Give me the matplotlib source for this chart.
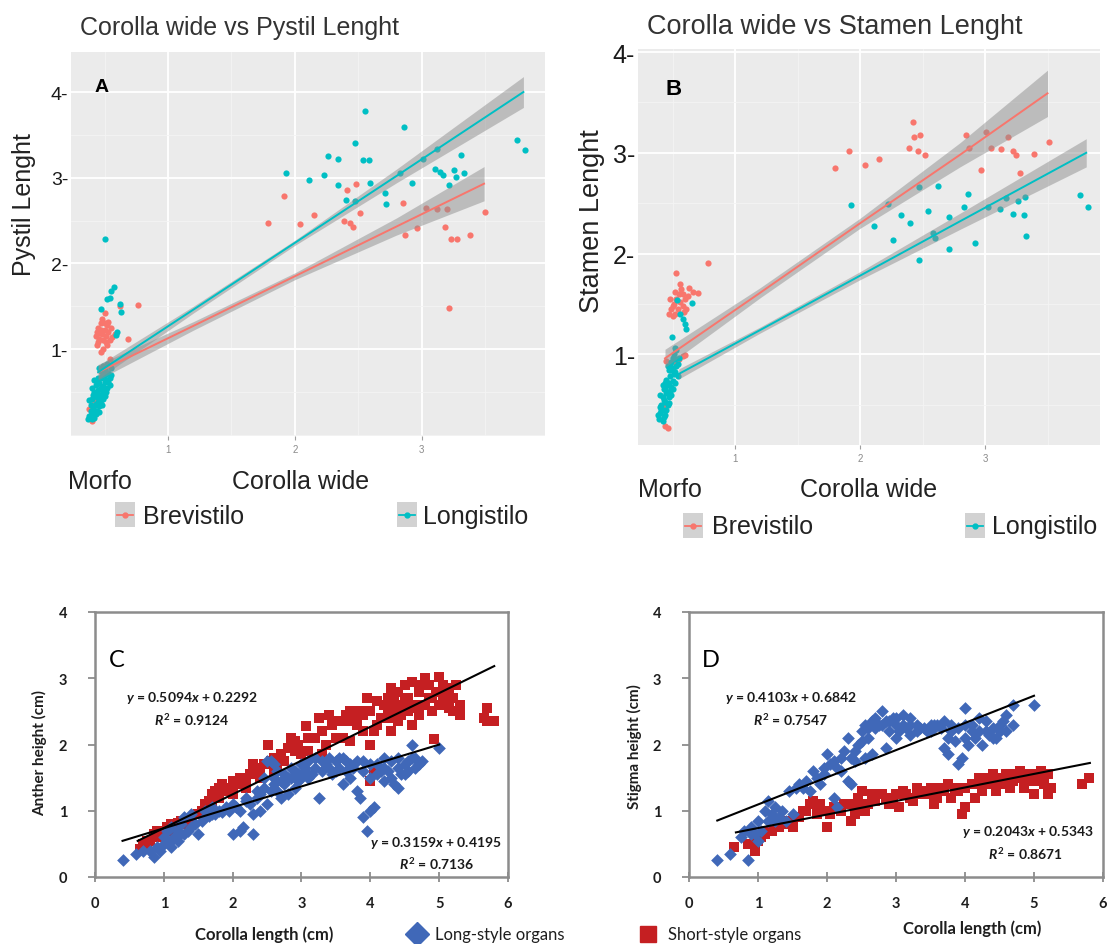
import numpy as np
import matplotlib
matplotlib.use("Agg")
import matplotlib.pyplot as plt
from matplotlib.lines import Line2D
from matplotlib.ticker import MultipleLocator, FixedLocator

# --- canvas / style ---
W, H = 1109, 945
GG_FONT = ["Liberation Sans", "DejaVu Sans"]
XL_FONT = ["Lato", "DejaVu Sans"]
RED_GG = "#F8766D"
CYAN_GG = "#00BFC4"
BLUE_XL = "#4068B8"
RED_XL = "#C51F22"
XL_GREY = "#8c8c8c"

plt.rcParams["font.family"] = GG_FONT
plt.rcParams["mathtext.fontset"] = "custom"
plt.rcParams["mathtext.it"] = "Lato:italic:bold"
plt.rcParams["mathtext.rm"] = "Lato:bold"

# --- panel A data (Corolla wide vs Pystil Lenght) ---
A_BREV = [
    (0.44, 1.05), (0.46, 1.12), (0.48, 1.18), (0.50, 1.22), (0.45, 1.25), (0.47, 1.30),
    (0.49, 1.10), (0.51, 1.15), (0.53, 1.20), (0.52, 1.28), (0.48, 1.35), (0.50, 1.42),
    (0.46, 1.19), (0.54, 1.10), (0.49, 1.00), (0.52, 1.05), (0.56, 1.14), (0.47, 0.97),
    (0.685, 1.12), (0.764, 1.51), (0.62, 1.50), (0.58, 1.18), (0.54, 0.88), (0.40, 0.16),
    (0.38, 0.30), (0.42, 0.40), (0.45, 0.60),
    (0.43, 1.15), (0.45, 1.08), (0.47, 1.22), (0.51, 1.08), (0.53, 1.32), (0.55, 1.25),
    (0.50, 1.30), (0.44, 1.20),
    (1.91, 2.79), (1.79, 2.47), (2.04, 2.46), (2.15, 2.57), (2.41, 2.86), (2.48, 2.93),
    (2.51, 2.59), (2.39, 2.49), (2.43, 2.47), (2.46, 2.43), (2.85, 2.71), (2.87, 2.33),
    (2.96, 2.41), (3.03, 2.65), (3.12, 2.63), (3.20, 2.64), (3.18, 2.42), (3.23, 2.28),
    (3.28, 2.28), (3.38, 2.33), (3.50, 2.60), (3.21, 1.48),
]
A_LONG = [
    (0.38, 0.22), (0.40, 0.25), (0.42, 0.20), (0.41, 0.30), (0.44, 0.28), (0.39, 0.35),
    (0.43, 0.36), (0.46, 0.33), (0.40, 0.42), (0.44, 0.44), (0.47, 0.40), (0.42, 0.50),
    (0.45, 0.52), (0.48, 0.48), (0.50, 0.45), (0.43, 0.58), (0.46, 0.60), (0.49, 0.57),
    (0.52, 0.55), (0.45, 0.66), (0.48, 0.68), (0.51, 0.64), (0.53, 0.62), (0.47, 0.74),
    (0.50, 0.76), (0.53, 0.72), (0.55, 0.70), (0.49, 0.80), (0.52, 0.82), (0.41, 0.46),
    (0.45, 0.38), (0.39, 0.28), (0.47, 0.55), (0.50, 0.70), (0.44, 0.62), (0.48, 0.35),
    (0.37, 0.18), (0.40, 0.18), (0.43, 0.24), (0.46, 0.26), (0.38, 0.40), (0.42, 0.33),
    (0.49, 0.42), (0.51, 0.50), (0.44, 0.48), (0.40, 0.55), (0.46, 0.45), (0.54, 0.58),
    (0.50, 0.62), (0.47, 0.66), (0.42, 0.64), (0.55, 0.78), (0.51, 0.72), (0.46, 0.78),
    (0.54, 0.66), (0.49, 0.52),
    (0.507, 2.29), (0.575, 1.72), (0.55, 1.68), (0.541, 1.60), (0.52, 1.58), (0.475, 1.47),
    (0.619, 1.53), (0.633, 1.43), (0.593, 1.16), (0.60, 1.20),
    (2.55, 3.78), (2.86, 3.59), (2.47, 3.40), (3.75, 3.44), (3.81, 3.32), (2.26, 3.25),
    (2.34, 3.22), (2.54, 3.21), (2.58, 3.21), (3.12, 3.34), (3.01, 3.22), (3.31, 3.27),
    (1.93, 3.05), (2.11, 2.97), (2.23, 3.03), (2.34, 2.91), (2.59, 2.94), (2.83, 3.05),
    (2.92, 2.94), (3.10, 3.10), (3.14, 3.07), (3.17, 3.03), (3.21, 2.91), (3.25, 3.09),
    (3.33, 3.05), (3.27, 3.01), (2.40, 2.74), (2.47, 2.73), (2.71, 2.82), (2.72, 2.69),
]
# fitted lines with ribbon half-widths, read at a few x positions
A_FIT_BREV_X = [0.45, 1.2, 2.0, 2.8, 3.49]
A_FIT_BREV_Y = [0.73, 1.27, 1.85, 2.43, 2.93]
A_FIT_BREV_SE = [0.09, 0.05, 0.04, 0.10, 0.20]
A_FIT_LONG_X = [0.45, 1.2, 2.0, 2.8, 3.80]
A_FIT_LONG_Y = [0.73, 1.46, 2.24, 3.02, 4.00]
A_FIT_LONG_SE = [0.08, 0.04, 0.03, 0.08, 0.18]

# --- panel B data (Corolla wide vs Stamen Lenght) ---
B_BREV = [
    (0.47, 1.40), (0.49, 1.45), (0.51, 1.50), (0.53, 1.55), (0.50, 1.38), (0.55, 1.60),
    (0.57, 1.65), (0.52, 1.62), (0.48, 1.55), (0.58, 1.48), (0.60, 1.55), (0.62, 1.58),
    (0.56, 1.70), (0.59, 1.42), (0.525, 1.81), (0.787, 1.91), (0.707, 1.61), (0.635, 1.66),
    (0.66, 1.62), (0.44, 0.29), (0.46, 0.27), (0.43, 0.50), (0.55, 0.95), (0.58, 0.98),
    (0.52, 0.92), (0.45, 0.93), (0.60, 0.99),
    (0.50, 1.48), (0.54, 1.45), (0.56, 1.52), (0.52, 1.40), (0.58, 1.60), (0.61, 1.45),
    (2.42, 3.31), (2.43, 3.16), (2.48, 3.18), (2.39, 3.05), (2.46, 3.02), (2.52, 2.98),
    (1.91, 3.02), (1.80, 2.85), (2.04, 2.88), (2.15, 2.94), (2.85, 3.18), (2.87, 3.05),
    (2.97, 2.83), (3.01, 3.21), (3.05, 3.05), (3.13, 3.04), (3.18, 3.16), (3.22, 3.02),
    (3.25, 2.98), (3.28, 2.80), (3.39, 2.99), (3.51, 3.11),
]
B_LONG = [
    (0.39, 0.36), (0.42, 0.34), (0.40, 0.42), (0.43, 0.45), (0.41, 0.50), (0.44, 0.53),
    (0.46, 0.50), (0.42, 0.58), (0.45, 0.62), (0.47, 0.58), (0.43, 0.66), (0.46, 0.70),
    (0.49, 0.68), (0.45, 0.75), (0.48, 0.78), (0.50, 0.74), (0.47, 0.84), (0.50, 0.86),
    (0.52, 0.82), (0.49, 0.92), (0.52, 0.95), (0.54, 0.90), (0.51, 1.00), (0.53, 1.04),
    (0.44, 0.40), (0.48, 0.64), (0.51, 0.80), (0.46, 0.88), (0.41, 0.45), (0.44, 0.72),
    (0.38, 0.40), (0.40, 0.48), (0.43, 0.38), (0.45, 0.45), (0.47, 0.52), (0.40, 0.60),
    (0.43, 0.55), (0.49, 0.60), (0.47, 0.72), (0.50, 0.66), (0.52, 0.72), (0.48, 0.88),
    (0.53, 0.88), (0.55, 0.96), (0.50, 0.96), (0.44, 0.66), (0.42, 0.70), (0.54, 0.78),
    (0.52, 1.06), (0.49, 0.84),
    (0.493, 1.17), (0.533, 1.54), (0.653, 1.51), (0.605, 1.25), (0.58, 1.35), (0.60, 1.30),
    (0.56, 1.40),
    (1.93, 2.48), (2.11, 2.27), (2.22, 2.49), (2.26, 2.13), (2.33, 2.38), (2.40, 2.30),
    (2.47, 2.66), (2.47, 1.94), (2.54, 2.42), (2.58, 2.20), (2.60, 2.15), (2.62, 2.67),
    (2.71, 2.36), (2.71, 2.05), (2.83, 2.46), (2.86, 2.59), (2.92, 2.10), (3.02, 2.46),
    (3.12, 2.44), (3.17, 2.55), (3.22, 2.39), (3.26, 2.52), (3.32, 2.56), (3.31, 2.38),
    (3.33, 2.17), (3.76, 2.58), (3.82, 2.46),
]
B_FIT_BREV_X = [0.44, 1.2, 2.0, 2.8, 3.50]
B_FIT_BREV_Y = [0.96, 1.61, 2.30, 2.98, 3.59]
B_FIT_BREV_SE = [0.09, 0.05, 0.05, 0.12, 0.23]
B_FIT_LONG_X = [0.55, 1.2, 2.0, 2.8, 3.81]
B_FIT_LONG_Y = [0.805, 1.24, 1.78, 2.32, 3.00]
B_FIT_LONG_SE = [0.05, 0.03, 0.04, 0.08, 0.14]

# --- panel C data (Anther height vs Corolla length) ---
C_SHORT = [
    (0.65, 0.42), (0.70, 0.50), (0.75, 0.45), (0.80, 0.55), (0.85, 0.65), (0.90, 0.60),
    (0.95, 0.70), (1.00, 0.68), (1.05, 0.75), (1.10, 0.80), (1.15, 0.78), (1.20, 0.82),
    (1.25, 0.85), (1.30, 0.80), (1.40, 0.88), (1.50, 0.95),
    (1.65, 1.15), (1.70, 1.25), (1.75, 1.30), (1.80, 1.35), (1.85, 1.40), (1.90, 1.30),
    (1.95, 1.35), (2.00, 1.45), (2.05, 1.40), (2.10, 1.50), (2.15, 1.45), (2.20, 1.50),
    (2.25, 1.55), (2.30, 1.70), (2.35, 1.65), (2.40, 1.60), (2.45, 1.70), (2.52, 2.00),
    (1.70, 1.10), (1.80, 1.20), (2.00, 1.25), (2.20, 1.35), (2.40, 1.50), (2.60, 1.60),
    (2.55, 1.75), (2.60, 1.80), (2.70, 1.85), (2.80, 1.95), (2.85, 2.10), (2.90, 1.90),
    (2.95, 2.00), (3.00, 1.85), (3.06, 2.28), (3.10, 1.90), (3.20, 2.10), (3.25, 2.40),
    (3.30, 2.20), (3.35, 2.00), (3.40, 2.45), (3.45, 2.30), (3.50, 2.10), (3.60, 2.35),
    (3.70, 2.50), (3.80, 2.30), (3.85, 2.50), (3.90, 2.20), (3.95, 2.70), (4.00, 2.50),
    (4.00, 1.45), (4.05, 1.60), (4.00, 2.00), (4.10, 2.30), (4.15, 2.40), (4.20, 2.60),
    (4.25, 2.70), (4.30, 2.50), (4.35, 2.65), (4.40, 2.80), (4.45, 2.60), (4.50, 2.90),
    (4.55, 2.70), (4.60, 2.95), (4.65, 2.55), (4.70, 2.80), (4.75, 2.60), (4.80, 3.00),
    (4.85, 2.70), (4.90, 2.50), (4.95, 2.80), (5.00, 3.02), (5.05, 2.70), (5.10, 2.65),
    (5.15, 2.85), (5.20, 2.50), (5.25, 2.90), (5.30, 2.60), (5.30, 2.45), (4.30, 2.20),
    (4.40, 2.35), (4.60, 2.30), (4.93, 2.08), (3.60, 2.10), (3.70, 2.05), (3.30, 1.85),
    (5.70, 2.55), (5.65, 2.40), (5.80, 2.35), (5.70, 2.35),
    (4.20, 2.40), (4.25, 2.50), (4.30, 2.85), (4.35, 2.40), (4.45, 2.45), (4.50, 2.65),
    (4.55, 2.50), (4.60, 2.60), (4.70, 2.45), (4.75, 2.90), (4.80, 2.60), (4.85, 2.90),
    (4.90, 2.70), (5.00, 2.60), (5.05, 2.90), (5.10, 2.80), (5.15, 2.55), (5.20, 2.70),
    (4.10, 2.65), (4.05, 2.20), (3.90, 2.45), (3.75, 2.35), (3.65, 2.45), (3.50, 2.35),
    (3.10, 2.10), (2.75, 1.75), (2.65, 1.70), (2.90, 2.05), (1.55, 1.00), (1.60, 1.10),
    (0.75, 0.55), (0.90, 0.70), (1.10, 0.70),
]
C_LONG = [
    (0.40, 0.25), (0.60, 0.35), (0.70, 0.40), (0.85, 0.30), (0.90, 0.45), (1.00, 0.50),
    (1.10, 0.45), (1.15, 0.60), (1.20, 0.70), (1.30, 0.65), (1.40, 0.75), (1.40, 0.95),
    (1.50, 0.65), (1.55, 0.85), (1.60, 1.00), (1.70, 0.95), (1.80, 1.00), (1.90, 1.05),
    (2.00, 1.10), (2.00, 0.65), (2.10, 0.70), (2.15, 0.75), (2.20, 1.20), (2.30, 0.65),
    (2.30, 0.95), (2.35, 1.30), (2.40, 1.00), (2.45, 1.50), (2.50, 1.75), (2.50, 1.10),
    (2.60, 1.40), (2.65, 1.60), (2.70, 1.20), (2.80, 1.50), (2.80, 1.25), (2.90, 1.60),
    (2.90, 1.35), (3.00, 1.70), (3.00, 1.50), (3.10, 1.75), (3.15, 1.55), (3.20, 1.80),
    (3.25, 1.20), (3.30, 1.60), (3.40, 1.65), (3.45, 1.55), (3.50, 1.75), (3.60, 1.80),
    (3.60, 1.40), (3.65, 1.60), (3.70, 1.50), (3.80, 1.75), (3.80, 1.30), (3.85, 1.20),
    (3.90, 1.60), (3.90, 0.90), (3.95, 0.70), (4.00, 1.00), (4.00, 1.50), (4.05, 1.05),
    (4.10, 1.70), (4.15, 1.60), (4.20, 1.80), (4.30, 1.50), (4.35, 1.40), (4.40, 1.65),
    (4.50, 1.70), (4.55, 1.60), (4.60, 1.80), (4.60, 2.00), (4.70, 1.70), (4.75, 1.75),
    (5.00, 1.95), (1.00, 0.60), (1.05, 0.70), (1.10, 0.75), (1.20, 0.55), (1.25, 0.80),
    (1.30, 0.90), (1.60, 0.90), (1.70, 1.05), (1.75, 0.95), (2.10, 1.00), (2.25, 1.10),
    (2.40, 1.25), (2.55, 1.30), (2.70, 1.45), (2.75, 1.55), (2.85, 1.65), (2.95, 1.45),
    (3.05, 1.60), (3.35, 1.70), (3.55, 1.65), (3.75, 1.65), (4.25, 1.60), (4.45, 1.55),
    (4.65, 1.65), (4.40, 1.35), (4.20, 1.45),
    (1.10, 0.55), (1.20, 0.62), (1.35, 0.70), (1.45, 0.80), (1.65, 0.92), (1.85, 0.98),
    (1.95, 1.00), (2.05, 1.05), (2.20, 1.15), (2.35, 1.20), (2.45, 1.35), (2.60, 1.50),
    (2.65, 1.30), (2.75, 1.40), (2.85, 1.50), (2.95, 1.55), (3.05, 1.65), (3.10, 1.50),
    (3.20, 1.65), (3.30, 1.75), (3.40, 1.80), (3.50, 1.60), (3.55, 1.80), (3.65, 1.75),
    (3.70, 1.70), (3.90, 1.75), (4.00, 1.70), (4.10, 1.55), (4.20, 1.65), (4.30, 1.75),
    (4.40, 1.80), (4.50, 1.55), (4.55, 1.75), (4.65, 1.80), (2.55, 1.75), (2.60, 1.70),
    (0.95, 0.40), (0.80, 0.40), (1.05, 0.55),
]
C_TREND_SHORT = (0.5094, 0.2292, 0.62, 5.80)   # slope, intercept, x from, x to
C_TREND_LONG = (0.3159, 0.4195, 0.40, 5.00)

# --- panel D data (Stigma height vs Corolla length) ---
D_SHORT = [
    (0.65, 0.45), (0.85, 0.50), (0.95, 0.40), (1.00, 0.55), (1.05, 0.60), (1.10, 0.65),
    (1.20, 0.70), (1.30, 0.75), (1.40, 0.80), (1.50, 0.75), (1.60, 0.90), (1.70, 1.00),
    (1.75, 1.10), (1.80, 1.15), (1.90, 1.10), (2.00, 0.75), (2.05, 0.95), (2.10, 1.05),
    (2.20, 1.00), (2.30, 1.10), (2.35, 0.85), (2.40, 0.95), (2.50, 1.30), (2.55, 1.00),
    (2.60, 1.10), (2.70, 1.15), (2.80, 1.25), (2.90, 1.10), (3.00, 1.25), (3.05, 1.05),
    (3.10, 1.30), (3.20, 1.20), (3.30, 1.35), (3.40, 1.30), (3.50, 1.35), (3.60, 1.20),
    (3.70, 1.30), (3.75, 1.40), (3.80, 1.20), (3.90, 1.30), (3.95, 0.95), (4.00, 1.05),
    (4.10, 1.40), (4.20, 1.50), (4.25, 1.30), (4.30, 1.50), (4.40, 1.45), (4.50, 1.50),
    (4.60, 1.45), (4.70, 1.55), (4.80, 1.50), (4.90, 1.45), (5.00, 1.55), (5.00, 1.25),
    (5.10, 1.60), (5.15, 1.40), (5.25, 1.35), (5.70, 1.40), (5.80, 1.50), (4.45, 1.30),
    (4.15, 1.20), (3.55, 1.10), (2.95, 1.15), (2.45, 1.20), (1.95, 1.00), (1.85, 0.95),
    (3.25, 1.15), (4.85, 1.35), (4.65, 1.35), (5.05, 1.45),
    (4.30, 1.40), (4.40, 1.55), (4.50, 1.40), (4.60, 1.55), (4.70, 1.45), (4.80, 1.60),
    (4.90, 1.55), (5.00, 1.45), (5.10, 1.50), (5.20, 1.55), (4.20, 1.40), (4.00, 1.35),
    (3.85, 1.35), (3.65, 1.35), (3.45, 1.25), (3.35, 1.25), (3.15, 1.25), (2.85, 1.20),
    (2.65, 1.25), (2.45, 1.10), (2.25, 1.10), (1.65, 1.00), (1.45, 0.85), (1.15, 0.70),
    (5.20, 1.25),
]
D_LONG = [
    (0.40, 0.25), (0.60, 0.35), (0.85, 0.25), (0.75, 0.60), (0.80, 0.70), (0.90, 0.75),
    (1.00, 0.85), (1.05, 0.70), (1.10, 1.00), (1.15, 1.15), (1.20, 0.95), (1.25, 0.85),
    (1.30, 0.90), (1.40, 0.85), (1.45, 1.30), (1.50, 0.95), (1.55, 1.35), (1.60, 1.40),
    (1.70, 1.45), (1.80, 1.60), (1.85, 1.50), (1.90, 1.40), (1.95, 1.55), (2.00, 1.85),
    (2.05, 1.70), (2.10, 1.20), (2.10, 1.75), (2.15, 1.05), (2.20, 1.80), (2.25, 1.90),
    (2.30, 2.10), (2.30, 1.45), (2.35, 1.40), (2.40, 1.90), (2.45, 2.00), (2.50, 2.20),
    (2.55, 2.30), (2.60, 2.10), (2.65, 2.35), (2.70, 2.40), (2.75, 2.30), (2.80, 2.50),
    (2.85, 2.35), (2.90, 2.20), (2.95, 2.40), (3.00, 2.30), (3.05, 2.20), (3.10, 2.45),
    (3.15, 2.25), (3.20, 2.30), (3.30, 2.20), (3.40, 2.25), (3.50, 2.30), (3.60, 2.30),
    (3.70, 2.35), (3.75, 2.10), (3.70, 1.95), (3.75, 1.85), (3.80, 2.20), (3.85, 2.05),
    (3.90, 1.70), (3.95, 1.80), (4.00, 2.55), (4.00, 2.10), (4.05, 2.00), (4.10, 2.30),
    (4.15, 2.10), (4.20, 2.20), (4.25, 2.00), (4.30, 2.35), (4.35, 2.15), (4.40, 2.25),
    (4.45, 2.10), (4.50, 2.30), (4.60, 2.45), (4.70, 2.30), (4.70, 2.60), (5.00, 2.60),
    (2.55, 1.80), (2.40, 1.75), (2.65, 1.85), (2.20, 1.60), (3.00, 2.10), (3.20, 2.15),
    (3.45, 2.20), (1.35, 1.00), (1.00, 0.55), (0.95, 0.65), (2.85, 1.95), (1.75, 1.30),
    (2.60, 2.25), (2.70, 2.25), (2.80, 2.30), (2.90, 2.35), (3.00, 2.40), (3.10, 2.30),
    (3.20, 2.40), (3.30, 2.30), (3.35, 2.25), (3.50, 2.20), (3.55, 2.30), (3.65, 2.25),
    (3.80, 2.30), (3.90, 2.25), (4.00, 2.30), (4.10, 2.20), (4.20, 2.40), (4.30, 2.20),
    (4.40, 2.10), (4.50, 2.20), (4.55, 2.35), (4.60, 2.20), (2.50, 2.05), (2.35, 1.80),
    (2.15, 1.65), (1.95, 1.65), (1.65, 1.35), (1.25, 1.05), (1.15, 0.85), (0.90, 0.65),
]
D_TREND_SHORT = (0.2043, 0.5343, 0.68, 5.81)
D_TREND_LONG = (0.4103, 0.6842, 0.41, 5.00)

GG_TICKS = [1, 2, 3, 4]
XL_XTICKS = [0, 1, 2, 3, 4, 5, 6]
XL_YTICKS = [0, 1, 2, 3, 4]


def px_axes(fig, l, t, r, b):
    return fig.add_axes([l / W, 1 - b / H, (r - l) / W, (b - t) / H])


def ftext(fig, x, y, s, **kw):
    return fig.text(x / W, 1 - y / H, s, **kw)


def gg_panel(ax, xlim, ylim, tick_fs, groups):
    ax.set_facecolor("#EBEBEB")
    for sp in ax.spines.values():
        sp.set_visible(False)
    ax.set_xlim(*xlim)
    ax.set_ylim(*ylim)
    ax.xaxis.set_major_locator(FixedLocator([1, 2, 3]))
    ax.xaxis.set_minor_locator(MultipleLocator(0.5))
    ax.yaxis.set_major_locator(FixedLocator(GG_TICKS))
    ax.yaxis.set_minor_locator(MultipleLocator(0.5))
    ax.set_yticklabels([f"{v}-" for v in GG_TICKS])
    ax.grid(which="major", color="white", lw=1.3)
    ax.grid(which="minor", color="#f4f4f4", lw=0.6)
    ax.set_axisbelow(True)
    ax.tick_params(axis="y", which="both", length=0, pad=2,
                   labelsize=tick_fs, labelcolor="#1a1a1a")
    ax.tick_params(axis="x", which="major", length=3, width=0.8, color="#a0a0a0",
                   labelsize=7, labelcolor="#8a8a8a", pad=3)
    ax.tick_params(axis="x", which="minor", length=0)

    for pts, color, fx, fy, se in groups:
        p = np.array(pts)
        ax.scatter(p[:, 0], p[:, 1], s=20, color=color, lw=0, zorder=3)
    for pts, color, fx, fy, se in groups:
        fx, fy, se = np.array(fx), np.array(fy), np.array(se)
        ax.fill_between(fx, fy - se, fy + se, color="#8f8f8f", alpha=0.5, lw=0, zorder=4)
        ax.plot(fx, fy, color=color, lw=1.4, zorder=5)


def gg_legend_key(fig, l, t, r, b, color):
    k = px_axes(fig, l, t, r, b)
    k.set_facecolor("#d2d2d2")
    for sp in k.spines.values():
        sp.set_visible(False)
    k.set_xticks([])
    k.set_yticks([])
    k.set_xlim(0, 1)
    k.set_ylim(0, 1)
    k.plot([0.1, 0.9], [0.5, 0.5], color=color, lw=1.3)
    k.plot([0.5], [0.5], "o", color=color, ms=3.5)


def xl_panel(ax, short_pts, long_pts, trends, letter, eqs):
    ax.set_xlim(0, 6)
    ax.set_ylim(0, 4)
    ax.set_xticks(XL_XTICKS)
    ax.set_yticks(XL_YTICKS)
    for sp in ax.spines.values():
        sp.set_color(XL_GREY)
        sp.set_linewidth(1.8)
    ax.tick_params(axis="x", direction="inout", length=7, width=1.3, color=XL_GREY,
                   labelsize=10.5, pad=10)
    ax.tick_params(axis="y", direction="out", length=5, width=1.3, color=XL_GREY,
                   labelsize=10.5, pad=15)
    for lab in ax.get_xticklabels() + ax.get_yticklabels():
        lab.set_fontfamily(XL_FONT)
        lab.set_fontweight("bold")
        lab.set_color("#1e1e1e")

    s = np.array(short_pts)
    lg = np.array(long_pts)
    ax.scatter(s[:, 0], s[:, 1], marker="s", s=42, color=RED_XL, lw=0, zorder=3)
    ax.scatter(lg[:, 0], lg[:, 1], marker="D", s=42, color=BLUE_XL, lw=0, zorder=4)
    for slope, icpt, x0, x1 in trends:
        xs = np.array([x0, x1])
        ax.plot(xs, slope * xs + icpt, color="black", lw=1.5, zorder=5)

    ax.text(0.31, 3.28, letter, fontsize=17, family=XL_FONT, ha="center", va="center")
    for x, y, txt in eqs:
        ax.text(x, y, txt, fontsize=10, family=XL_FONT, fontweight="bold",
                ha="center", va="center", color="#1a1a1a", zorder=6)


fig = plt.figure(figsize=(W / 100, H / 100), dpi=100, facecolor="white")

# ---------------- Panel A ----------------
axA = px_axes(fig, 71, 53, 545, 437)
gg_panel(axA, (0.236, 3.97), (-0.015, 4.467), 14, [
    (A_BREV, RED_GG, A_FIT_BREV_X, A_FIT_BREV_Y, A_FIT_BREV_SE),
    (A_LONG, CYAN_GG, A_FIT_LONG_X, A_FIT_LONG_Y, A_FIT_LONG_SE),
])
axA.text(0.05, 0.91, "A", transform=axA.transAxes, fontsize=14, fontweight="bold",
         ha="left", va="center")
ftext(fig, 80, 28, "Corolla wide vs Pystil Lenght", fontsize=18, color="#333333",
      ha="left", va="center")
ftext(fig, 24, 205, "Pystil Lenght", fontsize=18, rotation=90, ha="center",
      va="center", color="#222222")
ftext(fig, 68, 482, "Morfo", fontsize=18, ha="left", va="center", color="#222222")
ftext(fig, 301, 482, "Corolla wide", fontsize=18, ha="center", va="center", color="#222222")
gg_legend_key(fig, 115, 503, 135, 528, RED_GG)
ftext(fig, 143, 517, "Brevistilo", fontsize=18, ha="left", va="center", color="#222222")
gg_legend_key(fig, 397, 503, 417, 528, CYAN_GG)
ftext(fig, 423, 517, "Longistilo", fontsize=18, ha="left", va="center", color="#222222")

# ---------------- Panel B ----------------
axB = px_axes(fig, 638, 50, 1100, 446)
gg_panel(axB, (0.224, 3.92), (0.10, 4.03), 18, [
    (B_BREV, RED_GG, B_FIT_BREV_X, B_FIT_BREV_Y, B_FIT_BREV_SE),
    (B_LONG, CYAN_GG, B_FIT_LONG_X, B_FIT_LONG_Y, B_FIT_LONG_SE),
])
axB.text(0.06, 0.90, "B", transform=axB.transAxes, fontsize=16, fontweight="bold",
         ha="left", va="center")
ftext(fig, 647, 27, "Corolla wide vs Stamen Lenght", fontsize=19.5, color="#333333",
      ha="left", va="center")
ftext(fig, 592, 221, "Stamen Lenght", fontsize=19.5, rotation=90, ha="center",
      va="center", color="#222222")
ftext(fig, 638, 490, "Morfo", fontsize=18, ha="left", va="center", color="#222222")
ftext(fig, 869, 490, "Corolla wide", fontsize=18, ha="center", va="center", color="#222222")
gg_legend_key(fig, 683, 514, 703, 539, RED_GG)
ftext(fig, 712, 527, "Brevistilo", fontsize=18, ha="left", va="center", color="#222222")
gg_legend_key(fig, 965, 514, 985, 539, CYAN_GG)
ftext(fig, 992, 527, "Longistilo", fontsize=18, ha="left", va="center", color="#222222")

# ---------------- Panel C ----------------
axC = px_axes(fig, 95, 613, 508, 878)
xl_panel(axC, C_SHORT, C_LONG, [C_TREND_SHORT, C_TREND_LONG], "C", [
    (1.41, 2.71, r"$y$ = 0.5094$x$ + 0.2292"),
    (1.41, 2.38, r"$R^2$ = 0.9124"),
    (4.95, 0.53, r"$y$ = 0.3159$x$ + 0.4195"),
    (4.96, 0.21, r"$R^2$ = 0.7136"),
])
ftext(fig, 40, 753, "Anther height (cm)", fontsize=11, family=XL_FONT, fontweight="bold",
      rotation=90, ha="center", va="center", color="#1e1e1e")
ftext(fig, 264, 935, "Corolla length (cm)", fontsize=12, family=XL_FONT, fontweight="bold",
      ha="center", va="center", color="#1e1e1e")

# ---------------- Panel D ----------------
axD = px_axes(fig, 689, 613, 1103, 878)
xl_panel(axD, D_SHORT, D_LONG, [D_TREND_SHORT, D_TREND_LONG], "D", [
    (1.48, 2.71, r"$y$ = 0.4103$x$ + 0.6842"),
    (1.47, 2.38, r"$R^2$ = 0.7547"),
    (4.91, 0.69, r"$y$ = 0.2043$x$ + 0.5343"),
    (4.87, 0.36, r"$R^2$ = 0.8671"),
])
ftext(fig, 634, 747, "Stigma height (cm)", fontsize=11, family=XL_FONT, fontweight="bold",
      rotation=90, ha="center", va="center", color="#1e1e1e")
ftext(fig, 972, 929, "Corolla length (cm)", fontsize=12, family=XL_FONT, fontweight="bold",
      ha="center", va="center", color="#1e1e1e")

# shared legend for C / D
fig.add_artist(Line2D([417 / W], [1 - 935 / H], marker="D", ms=12, color=BLUE_XL,
                      lw=0, transform=fig.transFigure))
ftext(fig, 435, 935, "Long-style organs", fontsize=12, family=XL_FONT,
      ha="left", va="center", color="#1e1e1e")
fig.add_artist(Line2D([648 / W], [1 - 935 / H], marker="s", ms=11, color=RED_XL,
                      lw=0, transform=fig.transFigure))
ftext(fig, 668, 935, "Short-style organs", fontsize=12, family=XL_FONT,
      ha="left", va="center", color="#1e1e1e")

fig.savefig("out.png", dpi=100, facecolor="white")
